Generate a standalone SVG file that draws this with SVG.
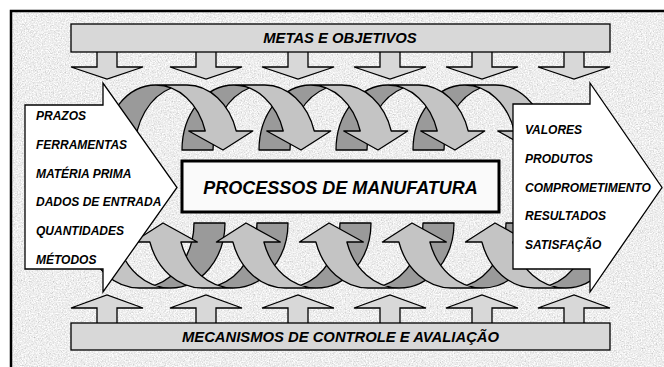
<svg xmlns="http://www.w3.org/2000/svg" xmlns:xlink="http://www.w3.org/1999/xlink" width="664" height="367" viewBox="0 0 664 367">
<style>
.t{font-family:"Liberation Sans",Arial,sans-serif;font-weight:bold;font-style:italic;fill:#000}
.lt{fill:#c4c4c4}
.dk{fill:#9a9a9a}
.ol{fill:none;stroke:#000;stroke-width:1.3;stroke-linejoin:round}
.bar{fill:#d8d8d8;stroke:#000;stroke-width:1.3}
.sa{fill:#d8d8d8;stroke:#000;stroke-width:1.3;stroke-linejoin:miter}
.wh{fill:#fff;stroke:#000;stroke-width:1.3;stroke-linejoin:miter}
</style>
<defs>
<filter id="tex" x="0" y="0" width="1" height="1">
<feTurbulence type="fractalNoise" baseFrequency="0.75" numOctaves="3" seed="7"/>
<feColorMatrix type="matrix" values="0.38 0.38 0.38 0 0.28  0.38 0.38 0.38 0 0.28  0.38 0.38 0.38 0 0.28  0 0 0 0 1"/>
</filter>
<g id="dn">
<path class="lt" d="M119,65 L84.74,46 L101.24,46 A51.75,65 0 0 0 51.75,0 L82.75,0 A51.75,65 0 0 1 132.24,46 L148.74,46 Z"/>
<path class="dk" d="M67.25,2.98 A51.75,65 0 0 0 31,65 L0,65 A51.75,65 0 0 1 67.25,2.98 Z"/>
<path class="ol" d="M67.25,2.98 A51.75,65 0 0 0 31,65 L0,65 A51.75,65 0 0 1 51.75,0 L82.75,0 A51.75,65 0 0 1 132.24,46 L148.74,46 L119,65 L84.74,46 L101.24,46 A51.75,65 0 0 0 51.75,0"/>
</g>
<g id="up">
<path class="lt" d="M125,65 L90.61,46 L107.11,46 A54.75,65 0 0 0 54.75,0 L85.75,0 A54.75,65 0 0 1 138.11,46 L154.61,46 Z"/>
<path class="dk" d="M70.25,2.66 A54.75,65 0 0 0 31,65 L0,65 A54.75,65 0 0 1 70.25,2.66 Z"/>
<path class="ol" d="M70.25,2.66 A54.75,65 0 0 0 31,65 L0,65 A54.75,65 0 0 1 54.75,0 L85.75,0 A54.75,65 0 0 1 138.11,46 L154.61,46 L125,65 L90.61,46 L107.11,46 A54.75,65 0 0 0 54.75,0"/>
</g>
<path id="sdown" d="M-10,52 L-10,67 L-36,67 L0,79 L36,67 L10,67 L10,52"/>
<path id="sup" d="M-10,323 L-10,308 L-36,308 L0,295 L36,308 L10,308 L10,323"/>
</defs>
<rect x="0" y="0" width="664" height="367" fill="#fff"/>
<g id="frame">
<rect x="11" y="11" width="680" height="380" fill="#dadada"/>
<rect x="11" y="11" width="653" height="356" filter="url(#tex)"/>
<rect x="11" y="11" width="700" height="400" fill="none" stroke="#000" stroke-width="2.5"/>
</g>
<g id="metas">
<use xlink:href="#sdown" href="#sdown" class="sa" x="107"/>
<use xlink:href="#sdown" href="#sdown" class="sa" x="206"/>
<use xlink:href="#sdown" href="#sdown" class="sa" x="298"/>
<use xlink:href="#sdown" href="#sdown" class="sa" x="390"/>
<use xlink:href="#sdown" href="#sdown" class="sa" x="482"/>
<use xlink:href="#sdown" href="#sdown" class="sa" x="574"/>
<rect class="bar" x="71" y="24" width="539" height="28"/>
<text class="t" x="340" y="43" font-size="14.8" text-anchor="middle">METAS E OBJETIVOS</text>
</g>
<g id="mecanismos">
<use xlink:href="#sup" href="#sup" class="sa" x="107"/>
<use xlink:href="#sup" href="#sup" class="sa" x="206"/>
<use xlink:href="#sup" href="#sup" class="sa" x="298"/>
<use xlink:href="#sup" href="#sup" class="sa" x="390"/>
<use xlink:href="#sup" href="#sup" class="sa" x="482"/>
<use xlink:href="#sup" href="#sup" class="sa" x="574"/>
<rect class="bar" x="71" y="323" width="539" height="27"/>
<text class="t" x="340.5" y="342" font-size="14.8" text-anchor="middle">MECANISMOS DE CONTROLE E AVALIAÇÃO</text>
</g>
<g id="connectors">
<g id="top-row">
<use xlink:href="#dn" href="#dn" transform="translate(413,85)"/>
<use xlink:href="#dn" href="#dn" transform="translate(336,85)"/>
<use xlink:href="#dn" href="#dn" transform="translate(259,85)"/>
<use xlink:href="#dn" href="#dn" transform="translate(182,85)"/>
<use xlink:href="#dn" href="#dn" transform="translate(104,85)"/>
</g>
<g id="bottom-row">
<use xlink:href="#up" href="#up" transform="translate(225,288) rotate(180)"/>
<use xlink:href="#up" href="#up" transform="translate(288,288) rotate(180)"/>
<use xlink:href="#up" href="#up" transform="translate(371,288) rotate(180)"/>
<use xlink:href="#up" href="#up" transform="translate(454,288) rotate(180)"/>
<use xlink:href="#up" href="#up" transform="translate(537,288) rotate(180)"/>
<use xlink:href="#up" href="#up" transform="translate(620,288) rotate(180)"/>
</g>
</g>
<g id="processos">
<rect x="182" y="161" width="317" height="51" fill="#fafafa" stroke="#000" stroke-width="3"/>
<text class="t" x="340.5" y="194" font-size="18" text-anchor="middle">PROCESSOS DE MANUFATURA</text>
</g>
<g id="entradas">
<polygon class="wh" points="25,105 103,105 103,83 177,187.5 103,292 103,269 25,269"/>
<text class="t" x="36" y="120" font-size="12">PRAZOS</text>
<text class="t" x="36" y="148.8" font-size="12">FERRAMENTAS</text>
<text class="t" x="36" y="177.6" font-size="12">MATÉRIA PRIMA</text>
<text class="t" x="36" y="206.4" font-size="12">DADOS DE ENTRADA</text>
<text class="t" x="36" y="235.2" font-size="12">QUANTIDADES</text>
<text class="t" x="36" y="264" font-size="12">MÉTODOS</text>
</g>
<g id="saidas">
<polygon class="wh" points="513,104 590,104 590,83 662,187.5 590,292 590,269 513,269"/>
<text class="t" x="525" y="134" font-size="12">VALORES</text>
<text class="t" x="525" y="162.5" font-size="12">PRODUTOS</text>
<text class="t" x="525" y="191.5" font-size="12">COMPROMETIMENTO</text>
<text class="t" x="525" y="220" font-size="12">RESULTADOS</text>
<text class="t" x="525" y="248.5" font-size="12">SATISFAÇÃO</text>
</g>
</svg>
